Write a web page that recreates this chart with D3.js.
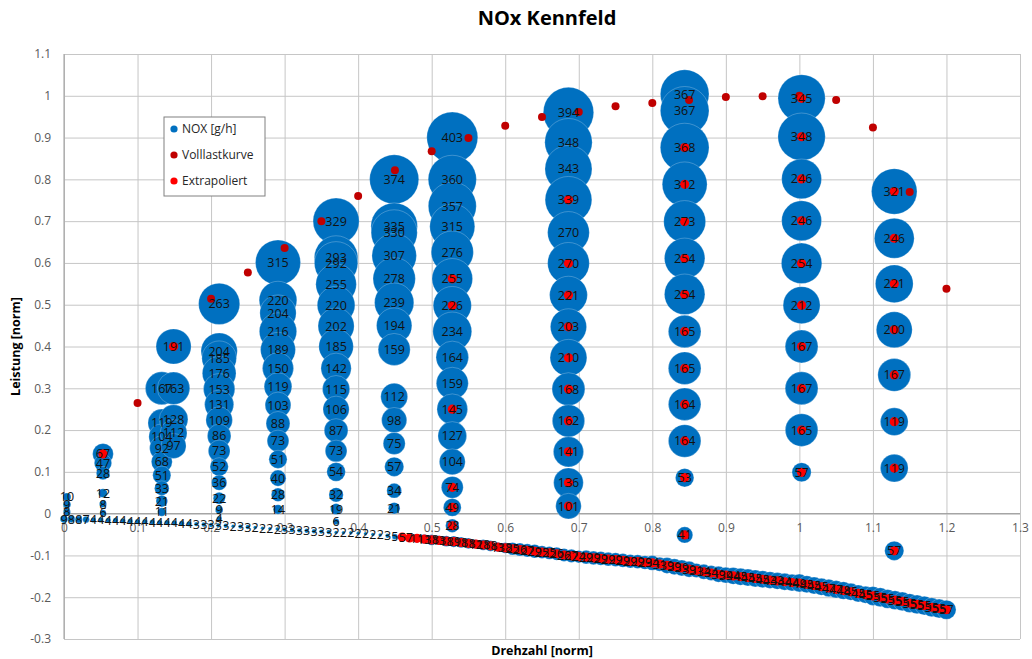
<!DOCTYPE html>
<html>
<head>
<meta charset="utf-8">
<script src="https://cdn.jsdelivr.net/npm/d3@7"></script>
<style>
  body { margin: 0; background: #fff; }
  svg { display: block; }
</style>
</head>
<body>
<svg id="chart" width="1032" height="659"></svg>
<script>
// ---- Messpunkte (Drehzahl / Leistung normiert, NOx in g/h) ----
const colDrehzahl = [0.004, 0.053, 0.133, 0.149, 0.211, 0.291, 0.37, 0.449, 0.528, 0.686, 0.844, 1.003, 1.129];

const colLeistung = [
  [0.04, 0.022, 0.004],
  [0.143, 0.121, 0.097, 0.049, 0.023, 0.002],
  [0.30, 0.217, 0.184, 0.157, 0.124, 0.092, 0.061, 0.03, 0.004],
  [0.40, 0.30, 0.226, 0.193, 0.162],
  [0.502, 0.389, 0.372, 0.336, 0.298, 0.261, 0.224, 0.186, 0.15, 0.112, 0.074, 0.037, 0.009, -0.012],
  [0.601, 0.511, 0.48, 0.436, 0.392, 0.348, 0.304, 0.26, 0.216, 0.174, 0.13, 0.085, 0.045, 0.01],
  [0.70, 0.613, 0.599, 0.549, 0.499, 0.449, 0.40, 0.348, 0.298, 0.25, 0.199, 0.15, 0.10, 0.045, 0.011, -0.019],
  [0.80, 0.688, 0.672, 0.617, 0.562, 0.505, 0.45, 0.393, 0.28, 0.224, 0.168, 0.112, 0.055, 0.013],
  [0.90, 0.80, 0.736, 0.687, 0.626, 0.562, 0.498, 0.436, 0.374, 0.312, 0.25, 0.186, 0.124, 0.063, 0.015, -0.029],
  [0.96, 0.889, 0.825, 0.751, 0.673, 0.599, 0.523, 0.447, 0.373, 0.298, 0.222, 0.148, 0.074, 0.018],
  [1.004, 0.964, 0.876, 0.788, 0.699, 0.611, 0.525, 0.436, 0.348, 0.262, 0.174, 0.086, -0.051],
  [0.994, 0.902, 0.801, 0.701, 0.599, 0.499, 0.40, 0.30, 0.20, 0.099],
  [0.771, 0.659, 0.55, 0.44, 0.332, 0.22, 0.109, -0.089]
];

const colNox = [
  [10, 9, 8],
  [67, 47, 28, 12, 8, 6],
  [167, 119, 104, 92, 68, 51, 33, 21, 11],
  [191, 163, 128, 112, 97],
  [263, 204, 185, 176, 153, 131, 109, 86, 73, 52, 36, 22, 9, 4],
  [315, 220, 204, 216, 189, 150, 119, 103, 88, 73, 51, 40, 28, 14],
  [329, 293, 292, 255, 220, 202, 185, 142, 115, 106, 87, 73, 54, 32, 19, 6],
  [374, 335, 330, 307, 278, 239, 194, 159, 112, 98, 75, 57, 34, 21],
  [403, 360, 357, 315, 276, 255, 226, 234, 164, 159, 145, 127, 104, 74, 49, 28],
  [394, 348, 343, 339, 270, 270, 221, 203, 210, 168, 162, 141, 136, 101],
  [367, 367, 368, 312, 273, 254, 254, 165, 165, 164, 164, 53, 41],
  [345, 348, 246, 246, 254, 212, 167, 167, 165, 57],
  [321, 246, 221, 200, 167, 119, 119, 57]
];

// 1 = Punkt extrapoliert
const colExtrapoliert = [
  [0, 0, 0],
  [1, 0, 0, 0, 0, 0],
  [0, 0, 0, 0, 0, 0, 0, 0, 0],
  [1, 0, 0, 0, 0],
  [0, 0, 0, 0, 0, 0, 0, 0, 0, 0, 0, 0, 0, 0],
  [0, 0, 0, 0, 0, 0, 0, 0, 0, 0, 0, 0, 0, 0],
  [0, 0, 0, 0, 0, 0, 0, 0, 0, 0, 0, 0, 0, 0, 0, 0],
  [0, 0, 0, 0, 0, 0, 0, 0, 0, 0, 0, 0, 0, 0],
  [0, 0, 0, 0, 0, 1, 1, 0, 0, 0, 1, 0, 0, 1, 1, 1],
  [0, 0, 0, 1, 0, 1, 1, 1, 1, 1, 1, 1, 1, 1],
  [0, 0, 1, 1, 1, 1, 1, 1, 1, 1, 1, 1, 1],
  [1, 1, 1, 1, 1, 1, 1, 1, 1, 1],
  [1, 1, 1, 1, 1, 1, 1, 1]
];

// Schleppkurve
const curveDrehzahl = [
  0.00, 0.01, 0.02, 0.03, 0.04, 0.05, 0.06, 0.07, 0.08, 0.09,
  0.10, 0.11, 0.12, 0.13, 0.14, 0.15, 0.16, 0.17, 0.18, 0.19,
  0.20, 0.21, 0.22, 0.23, 0.24, 0.25, 0.26, 0.27, 0.28, 0.29,
  0.30, 0.31, 0.32, 0.33, 0.34, 0.35, 0.36, 0.37, 0.38, 0.39,
  0.40, 0.41, 0.42, 0.43, 0.44, 0.45, 0.46, 0.47, 0.48, 0.49,
  0.50, 0.51, 0.52, 0.53, 0.54, 0.55, 0.56, 0.57, 0.58, 0.59,
  0.60, 0.61, 0.62, 0.63, 0.64, 0.65, 0.66, 0.67, 0.68, 0.69,
  0.70, 0.71, 0.72, 0.73, 0.74, 0.75, 0.76, 0.77, 0.78, 0.79,
  0.80, 0.81, 0.82, 0.83, 0.84, 0.85, 0.86, 0.87, 0.88, 0.89,
  0.90, 0.91, 0.92, 0.93, 0.94, 0.95, 0.96, 0.97, 0.98, 0.99,
  1.00, 1.01, 1.02, 1.03, 1.04, 1.05, 1.06, 1.07, 1.08, 1.09,
  1.10, 1.11, 1.12, 1.13, 1.14, 1.15, 1.16, 1.17, 1.18, 1.19,
  1.20
];
const curveLeistung = [
  -0.013, -0.013, -0.014, -0.014, -0.015, -0.015, -0.016, -0.016, -0.017, -0.018,
  -0.019, -0.019, -0.020, -0.021, -0.021, -0.022, -0.023, -0.024, -0.025, -0.026,
  -0.027, -0.028, -0.029, -0.030, -0.031, -0.032, -0.033, -0.035, -0.036, -0.037,
  -0.038, -0.039, -0.040, -0.041, -0.042, -0.043, -0.044, -0.045, -0.046, -0.046,
  -0.047, -0.048, -0.050, -0.051, -0.053, -0.055, -0.056, -0.058, -0.059, -0.061,
  -0.063, -0.064, -0.066, -0.067, -0.069, -0.071, -0.073, -0.075, -0.077, -0.080,
  -0.082, -0.084, -0.086, -0.088, -0.090, -0.092, -0.094, -0.096, -0.099, -0.101,
  -0.103, -0.104, -0.106, -0.107, -0.109, -0.110, -0.112, -0.114, -0.115, -0.117,
  -0.118, -0.121, -0.124, -0.127, -0.130, -0.133, -0.136, -0.139, -0.142, -0.145,
  -0.147, -0.149, -0.151, -0.153, -0.155, -0.157, -0.159, -0.161, -0.163, -0.165,
  -0.166, -0.169, -0.172, -0.175, -0.178, -0.181, -0.184, -0.187, -0.191, -0.194,
  -0.197, -0.200, -0.204, -0.207, -0.210, -0.214, -0.217, -0.220, -0.224, -0.227,
  -0.230
];
const curveNox = [
  9, 8, 8, 7, 4, 4, 4, 4, 4, 4,
  4, 4, 4, 4, 4, 4, 4, 4, 3, 3,
  3, 3, 3, 2, 3, 3, 2, 2, 2, 2,
  3, 3, 3, 3, 3, 3, 3, 2, 2, 2,
  2, 2, 2, 2, 3, 5, 5, 7, 11, 13,
  18, 13, 18, 19, 18, 18, 12, 18, 18, 13,
  18, 25, 26, 27, 29, 25, 25, 26, 26, 27,
  24, 29, 29, 29, 29, 29, 29, 29, 29, 29,
  34, 31, 39, 39, 39, 39, 31, 34, 34, 39,
  39, 44, 45, 45, 45, 45, 43, 43, 44, 44,
  49, 45, 45, 45, 47, 47, 48, 45, 45, 45,
  55, 55, 55, 55, 55, 55, 55, 55, 55, 55,
  57
];
const curveExtrapoliertAb = 0.46;

// Volllastkurve
const vollDrehzahl = [0.1, 0.2, 0.25, 0.3, 0.35, 0.4, 0.45, 0.5, 0.55, 0.6, 0.65, 0.7, 0.75, 0.8, 0.85, 0.9, 0.95, 1.0, 1.05, 1.1, 1.15, 1.2];
const vollLeistung = [0.265, 0.514, 0.577, 0.636, 0.70, 0.76, 0.822, 0.867, 0.899, 0.928, 0.949, 0.961, 0.975, 0.983, 0.99, 0.997, 0.999, 1.0, 0.99, 0.924, 0.77, 0.538];

const xTicks = [0, 0.1, 0.2, 0.3, 0.4, 0.5, 0.6, 0.7, 0.8, 0.9, 1.0, 1.1, 1.2, 1.3];
const yTicks = [-0.3, -0.2, -0.1, 0, 0.1, 0.2, 0.3, 0.4, 0.5, 0.6, 0.7, 0.8, 0.9, 1.0, 1.1];

// ---- Aufbau ----
const plot = { left: 64, right: 1020, top: 54, bottom: 639 };
const font = "'Open Sans', 'Noto Sans', sans-serif";
const blue = "#0070C0", darkRed = "#C00000", red = "#FF0000";

const svg = d3.select("#chart");
const x = d3.scaleLinear().domain([0, 1.3]).range([plot.left, plot.right]);
const y = d3.scaleLinear().domain([-0.3, 1.1]).range([plot.bottom, plot.top]);
const r = d3.scaleSqrt().domain([0, 403]).range([0, 25.5]);
const fmt = d => String(+d.toFixed(1));

// Gitterlinien
svg.append("g")
  .attr("transform", `translate(0,${plot.bottom})`)
  .call(d3.axisBottom(x).tickValues(xTicks).tickSize(-(plot.bottom - plot.top)).tickFormat(""))
  .call(g => { g.select(".domain").remove(); g.selectAll("line").attr("stroke", "#c6c6c6"); });
svg.append("g")
  .attr("transform", `translate(${plot.left},0)`)
  .call(d3.axisLeft(y).tickValues(yTicks).tickSize(-(plot.right - plot.left)).tickFormat(""))
  .call(g => { g.select(".domain").remove(); g.selectAll("line").attr("stroke", "#c6c6c6"); });

// Achsenlinien
svg.append("line").attr("x1", x(0)).attr("x2", x(0)).attr("y1", plot.top).attr("y2", plot.bottom)
  .attr("stroke", "#9a9a9a");
svg.append("line").attr("x1", plot.left).attr("x2", plot.right).attr("y1", y(0)).attr("y2", y(0))
  .attr("stroke", "#9a9a9a");

// Achsenbeschriftung
svg.append("g")
  .attr("transform", `translate(0,${y(0)})`)
  .call(d3.axisBottom(x).tickValues(xTicks).tickSize(0).tickPadding(10).tickFormat(fmt))
  .call(g => {
    g.select(".domain").remove();
    g.selectAll("text").attr("font-family", font).attr("font-size", 12).attr("fill", "#595959");
  });
svg.append("g")
  .attr("transform", `translate(${x(0)},0)`)
  .call(d3.axisLeft(y).tickValues(yTicks).tickSize(0).tickPadding(13).tickFormat(fmt))
  .call(g => {
    g.select(".domain").remove();
    g.selectAll("text").attr("font-family", font).attr("font-size", 12).attr("fill", "#595959");
  });

// Punkte zusammenstellen
const noxPoints = [];
colDrehzahl.forEach((dz, i) => {
  colLeistung[i].forEach((lt, j) => {
    noxPoints.push({ x: dz, y: lt, v: colNox[i][j], extra: colExtrapoliert[i][j] === 1 });
  });
});
curveDrehzahl.forEach((dz, i) => {
  noxPoints.push({ x: dz, y: curveLeistung[i], v: curveNox[i], extra: dz >= curveExtrapoliertAb });
});
const vollPoints = vollDrehzahl.map((dz, i) => ({ x: dz, y: vollLeistung[i] }));

// NOx-Blasen
svg.append("g").selectAll("circle").data(noxPoints).join("circle")
  .attr("cx", d => x(d.x)).attr("cy", d => y(d.y)).attr("r", d => r(d.v))
  .attr("fill", blue)
  .attr("stroke", "#ffffff").attr("stroke-opacity", 0.3).attr("stroke-width", 0.8);

// Volllastkurve
svg.append("g").selectAll("circle").data(vollPoints).join("circle")
  .attr("cx", d => x(d.x)).attr("cy", d => y(d.y)).attr("r", 4)
  .attr("fill", darkRed);

// Extrapolierte Punkte
svg.append("g").selectAll("circle").data(noxPoints.filter(d => d.extra)).join("circle")
  .attr("cx", d => x(d.x)).attr("cy", d => y(d.y)).attr("r", 4.6)
  .attr("fill", red);

// Werte
svg.append("g").selectAll("text").data(noxPoints).join("text")
  .attr("x", d => x(d.x)).attr("y", d => y(d.y)).attr("dy", "0.36em")
  .attr("text-anchor", "middle")
  .attr("font-family", font).attr("font-size", 12.5).attr("fill", "#111")
  .text(d => d.v);

// Titel
svg.append("text").attr("x", 547).attr("y", 25).attr("text-anchor", "middle")
  .attr("font-family", font).attr("font-size", 20).attr("font-weight", "bold").attr("fill", "#000")
  .text("NOx Kennfeld");
svg.append("text").attr("x", (plot.left + plot.right) / 2).attr("y", 655).attr("text-anchor", "middle")
  .attr("font-family", font).attr("font-size", 12.5).attr("font-weight", "bold").attr("fill", "#000")
  .text("Drehzahl [norm]");
svg.append("text").attr("transform", `translate(20,${(plot.top + plot.bottom) / 2}) rotate(-90)`)
  .attr("text-anchor", "middle")
  .attr("font-family", font).attr("font-size", 12.5).attr("font-weight", "bold").attr("fill", "#000")
  .text("Leistung [norm]");

// Legende
const legendItems = [
  { label: "NOX [g/h]", color: blue },
  { label: "Volllastkurve", color: darkRed },
  { label: "Extrapoliert", color: red }
];
const lg = svg.append("g").attr("transform", "translate(164,117)");
lg.append("rect").attr("width", 101).attr("height", 79)
  .attr("fill", "#fff").attr("stroke", "#808080").attr("stroke-width", 1);
const li = lg.selectAll("g").data(legendItems).join("g")
  .attr("transform", (d, i) => `translate(0,${12 + i * 26})`);
li.append("circle").attr("cx", 10).attr("cy", 0).attr("r", 3.6).attr("fill", d => d.color);
li.append("text").attr("x", 18).attr("y", 0).attr("dy", "0.35em")
  .attr("font-family", font).attr("font-size", 12).attr("fill", "#262626")
  .text(d => d.label);
</script>
</body>
</html>
